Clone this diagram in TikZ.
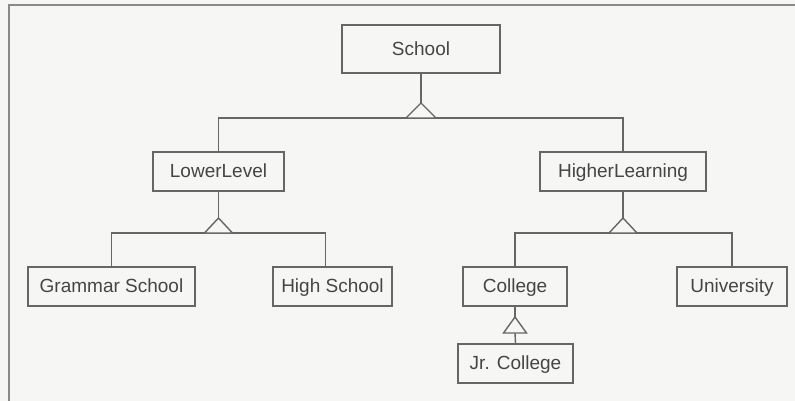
\documentclass[tikz,border=0pt]{standalone}
\usepackage{fontspec}
\setmainfont{Liberation Sans}
\definecolor{bg}{HTML}{F6F6F4}
\definecolor{ln}{HTML}{666666}
\definecolor{tx}{HTML}{454545}
\definecolor{fr}{HTML}{8A8A8A}
\tikzset{
  cls/.style={draw=ln, line width=1.4pt, fill=bg, text=tx, inner sep=0pt,
    font=\fontsize{19}{22}\selectfont, minimum height=39pt,
    text height=15pt, text depth=2.5pt},
  conn/.style={draw=ln, line width=1.4pt},
  gen/.style={draw=ln, line width=1.4pt, fill=bg, line join=miter},
  frame/.style={draw=fr, line width=1.8pt}
}
\begin{document}
\begin{tikzpicture}[x=1pt,y=-1pt]
\fill[bg] (0,0) rectangle (795,401);
\useasboundingbox (0,0) rectangle (795,401);
% scan frame
\coordinate (fa) at (9,401);
\coordinate (fb) at (9,5);
\coordinate (fc) at (795,5);
\draw[frame] (fa) -- (fb) -- (fc);
% classes
\node[cls, minimum width=158pt, minimum height=48pt] (school) at (421,49) {School};
\node[cls, minimum width=131pt] (lower) at (218.5,171.5) {LowerLevel};
\node[cls, minimum width=166pt] (higher) at (623,171.5) {HigherLearning};
\node[cls, minimum width=167pt] (gs) at (111.5,286.5) {Grammar School};
\node[cls, minimum width=119pt] (hs) at (332.5,286.5) {High School};
\node[cls, minimum width=104pt] (college) at (515,286.5) {College};
\node[cls, minimum width=110pt] (univ) at (732,286.5) {University};
\node[cls, minimum width=115pt] (jr) at (515.5,363.5) {Jr. College};
% generalisation triangles: apex and base centre
\coordinate (a1) at (421,103); \coordinate (b1) at (421,118);
\coordinate (a2) at (218.5,218); \coordinate (b2) at (218.5,233);
\coordinate (a3) at (623,218); \coordinate (b3) at (623,233);
\coordinate (a4) at (515,317); \coordinate (b4) at (515,333);
% connectors
\draw[conn] (school.south) -- (a1);
\draw[conn] (lower.north) |- (b1) -| (higher.north);
\draw[conn] (lower.south) -- (a2);
\draw[conn] (gs.north) |- (b2) -| ([xshift=-7pt]hs.north);
\draw[conn] (higher.south) -- (a3);
\draw[conn] (college.north) |- (b3) -| (univ.north);
\draw[conn] (college.south) -- (a4);
\draw[conn] (jr.north) -- (b4);
% triangles
\draw[gen] (a1) -- ([xshift=-15pt]b1) -- ([xshift=15pt]b1) -- cycle;
\draw[gen] (a2) -- ([xshift=-14pt]b2) -- ([xshift=14pt]b2) -- cycle;
\draw[gen] (a3) -- ([xshift=-14pt]b3) -- ([xshift=14pt]b3) -- cycle;
\draw[gen] (a4) -- ([xshift=-11.5pt]b4) -- ([xshift=11.5pt]b4) -- cycle;
\end{tikzpicture}
\end{document}
